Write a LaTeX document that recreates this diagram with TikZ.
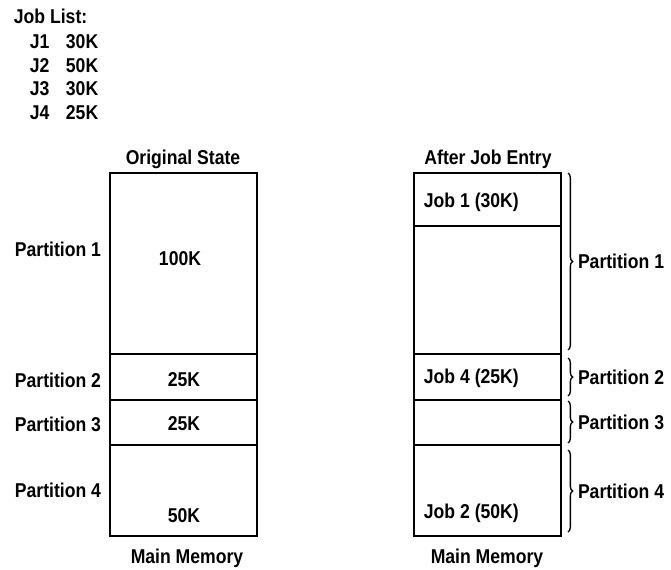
\documentclass[tikz,border=0pt]{standalone}
\usepackage{fontspec}
\setmainfont{Liberation Sans}[FakeStretch=0.88]
\usetikzlibrary{decorations.pathreplacing,positioning}

\begin{document}
\begin{tikzpicture}[x=0.75pt,y=-0.75pt,line width=1.4pt,
  every node/.style={font=\bfseries\fontsize{15}{17}\selectfont,inner sep=0pt},
  lbl/.style={anchor=base west},
  mid/.style={anchor=base},
  brc/.style={decorate,decoration={brace,amplitude=3.5pt},line width=1pt}]
\useasboundingbox (0,0) rectangle (671,569);
% job list
\node[lbl] (jl) at (13,23) {Job List:};
\foreach \j/\s/\yb [count=\i] in {J1/30K/48,J2/50K/72,J3/30K/95,J4/25K/119}{
  \node[lbl] (j\i) at (29,\yb) {\j};
  \node[lbl] (s\i) at (65,\yb) {\s};}
% original state
\node[mid] (os) at (183,164) {Original State};
\foreach \t/\b in {173/354,354/400,400/445,445/536}
  \draw (110,\t) rectangle (257,\b);
\node[lbl] (lp1) at (14,256) {Partition 1};
\node[lbl] (lp2) at (14,387) {Partition 2};
\node[lbl] (lp3) at (14,431) {Partition 3};
\node[lbl] (lp4) at (14,497) {Partition 4};
\node[mid] (k1) at (180,265) {100K};
\node[mid] (k2) at (184,386) {25K};
\node[mid] (k3) at (184,430) {25K};
\node[mid] (k4) at (184,522) {50K};
\node[mid] (mm1) at (187,563) {Main Memory};
% after job entry
\node[mid] (aj) at (488,164) {After Job Entry};
\foreach \t/\b in {173/226,226/354,354/400,400/445,445/536}
  \draw (414,\t) rectangle (561,\b);
\node[lbl] (job1) at (423,207) {Job 1 (30K)};
\node[lbl] (job4) at (423,383) {Job 4 (25K)};
\node[lbl] (job2) at (423,518) {Job 2 (50K)};
\node[mid] (mm2) at (487,563) {Main Memory};
\foreach \t/\b/\n in {173/350/1,358/396/2,401/443/3,450/532/4}{
  \coordinate (bt\n) at (568,\t);
  \coordinate (bb\n) at (568,\b);
  \draw[brc] (bt\n) -- (bb\n) node[midway,anchor=west,xshift=7pt] (rp\n) {Partition \n};}
\end{tikzpicture}
\end{document}
